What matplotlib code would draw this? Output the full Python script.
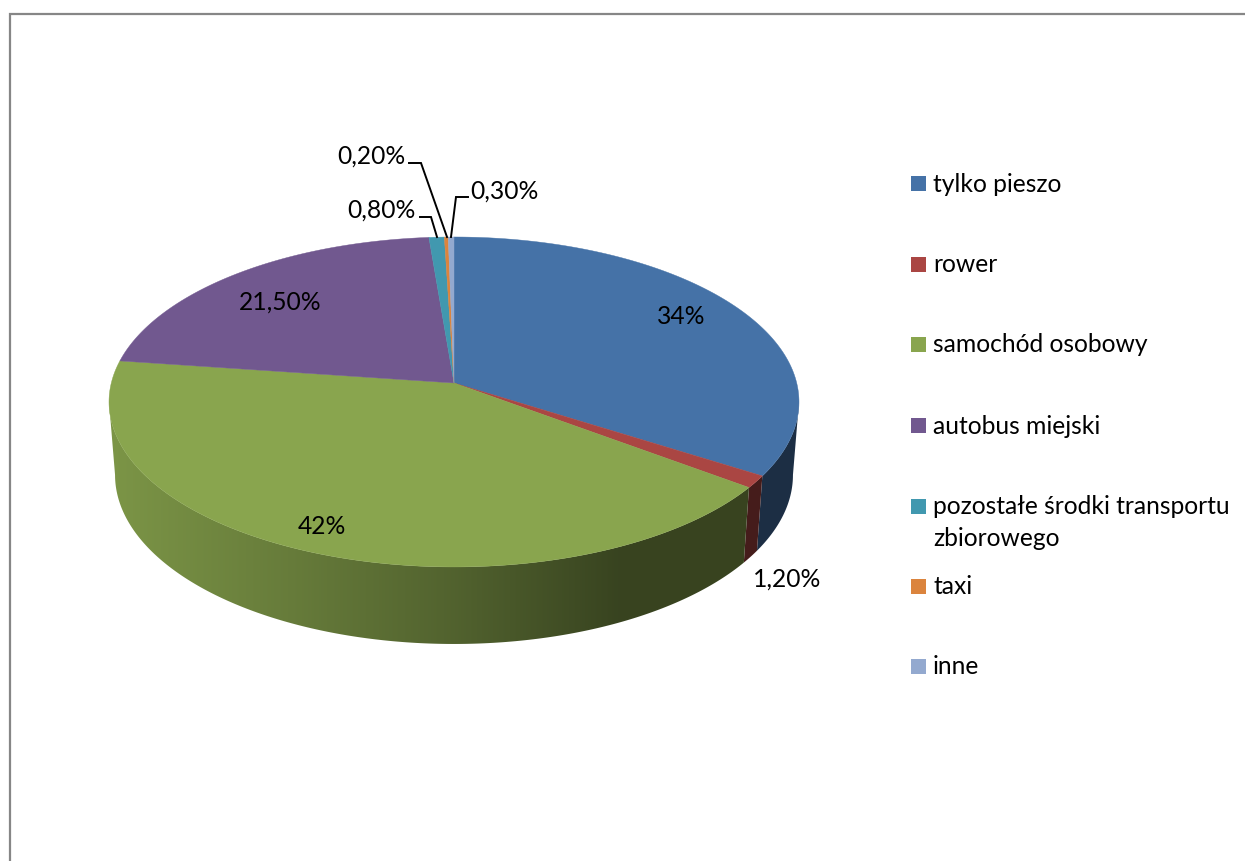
import numpy as np
import matplotlib
matplotlib.use("Agg")
import matplotlib.pyplot as plt
from matplotlib.patches import Polygon, Rectangle

# Transport mode shares, percent
categories = ["tylko pieszo", "rower", "samochód osobowy", "autobus miejski",
              "pozostałe środki transportu\nzbiorowego", "taxi", "inne"]
shares = [34, 1.2, 42, 21.5, 0.8, 0.2, 0.3]
share_labels = ["34%", "1,20%", "42%", "21,50%", "0,80%", "0,20%", "0,30%"]
colors = ["#4572A7", "#AA4643", "#89A54E", "#71588F", "#4198AF", "#DB843D", "#93A9CF"]

W, H = 1245, 861
fig = plt.figure(figsize=(W / 100, H / 100), dpi=100, facecolor="white")
ax = fig.add_axes([0, 0, 1, 1])
ax.set_xlim(0, W)
ax.set_ylim(H, 0)
ax.axis("off")

plt.rcParams["font.family"] = ["Lato", "DejaVu Sans"]
FS = 17.7
TILT = 0.115
CX = 454


def project(t, apex_y, cx_scale, cy_scale):
    """Perspective projection of a rim point at clockwise angle t from the top."""
    u, v = np.sin(t), -np.cos(t)
    d = 1 - TILT * v
    return CX + cx_scale * u / d, apex_y + cy_scale * v / d


def top(t):
    return project(t, 383, 342.7, 162.8)


def bottom(t):
    return project(t, 455.5, 336.7, 166.8)


def shade(x):
    """Side-wall brightness falls off from left to right."""
    return np.interp(x, [115, 290, 450, 620], [0.90, 0.75, 0.60, 0.41])


edges = 2 * np.pi * np.concatenate([[0], np.cumsum(shares)]) / sum(shares)

# Side walls on the near half of the disc, each a horizontal gradient clipped to its outline
for i, color in enumerate(colors):
    a0, a1 = max(edges[i], np.radians(96.6)), min(edges[i + 1], np.radians(263.4))
    if a1 <= a0:
        continue
    ts = np.linspace(a0, a1, 200)
    xt, yt = top(ts)
    xb, yb = bottom(ts)
    px = np.r_[xt, xb[::-1]]
    py = np.r_[yt, yb[::-1]]
    x_lo, x_hi = px.min() - 2, px.max() + 2
    y_lo, y_hi = py.min() - 2, py.max() + 2
    grid = np.linspace(x_lo, x_hi, max(2, int(x_hi - x_lo)))
    rgb = np.outer(shade(grid), matplotlib.colors.to_rgb(color)).reshape(1, -1, 3)
    outline = Polygon(np.c_[px, py], closed=True, transform=ax.transData,
                      facecolor="none", edgecolor="none")
    ax.add_patch(outline)
    im = ax.imshow(rgb, extent=(x_lo, x_hi, y_hi, y_lo), aspect="auto",
                   interpolation="bilinear", zorder=2)
    im.set_clip_path(outline)
ax.set_xlim(0, W)
ax.set_ylim(H, 0)

# Top face
for i, color in enumerate(colors):
    ts = np.linspace(edges[i], edges[i + 1], max(3, int(np.degrees(edges[i + 1] - edges[i])) * 2))
    xs, ys = top(ts)
    ax.fill(np.r_[CX, xs], np.r_[383, ys], color=color, lw=0.3, zorder=3)

# Data labels
label_pos = [(681, 316), (787, 579), (322, 526), (280, 302), (381, 210), (371, 156), (504, 191)]
for text, (x, y) in zip(share_labels, label_pos):
    ax.text(x, y, text, ha="center", va="center", fontsize=FS, color="black", zorder=5)

# Leader lines for the narrow slices
leaders = [
    ([420, 431, 437], [217, 217, 237]),
    ([409, 421, 447], [163, 163, 237]),
    ([468, 456, 451], [197, 197, 237]),
]
for lx, ly in leaders:
    ax.plot(lx, ly, color="black", lw=1.4, zorder=4, solid_joinstyle="miter")

# Legend
legend_y = [183, 264, 344, 425, 506, 586, 666]
for name, color, y in zip(categories, colors, legend_y):
    ax.add_patch(Rectangle((911, y - 7.5), 15, 15, facecolor=color, edgecolor="none", zorder=4))
    if "\n" in name:
        first, second = name.split("\n")
        ax.text(933, y + 1, first, ha="left", va="center", fontsize=FS, color="black")
        ax.text(933, y + 33, second, ha="left", va="center", fontsize=FS, color="black")
    else:
        ax.text(933, y + 1, name, ha="left", va="center", fontsize=FS, color="black")

# Chart frame, open on the right and at the bottom
ax.plot([9.5, 9.5, W], [H, 13.5, 13.5], color="#868686", lw=1.6, zorder=1, solid_joinstyle="miter")

fig.savefig("out.png", dpi=100, facecolor="white")
